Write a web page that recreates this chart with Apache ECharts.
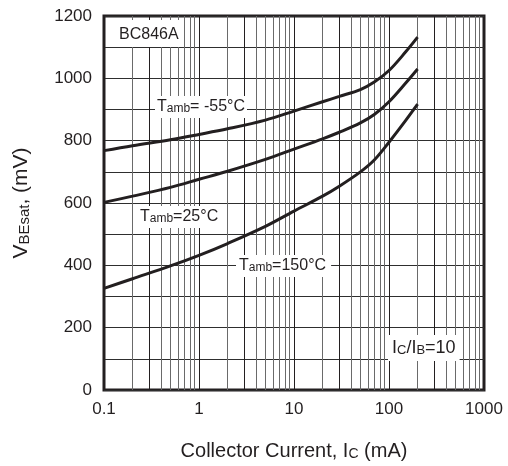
<!DOCTYPE html>
<html>
<head>
<meta charset="utf-8">
<script src="https://cdn.jsdelivr.net/npm/echarts@6/dist/echarts.min.js"></script>
<style>
  html, body { margin: 0; padding: 0; background: #fff; }
  #chart { width: 508px; height: 466px; }
</style>
</head>
<body>
<div id="chart"></div>
<script>
  // collector current (mA) and VBEsat (mV)
  const current = [0.1, 0.2, 0.5, 1, 2, 5, 10, 20, 30, 50, 70, 100, 150, 200];
  const vMinus55 = [768, 784, 803, 820, 838, 866, 895, 925, 942, 964, 988, 1025, 1085, 1132];
  const v25 = [602, 622, 650, 676, 702, 740, 773, 806, 827, 857, 884, 925, 985, 1030];
  const v150 = [326, 357, 398, 432, 470, 525, 574, 622, 654, 700, 738, 795, 865, 917];

  // minor log grid positions, the "3" lines are drawn darker like the original
  const minorGray = [0.2, 0.4, 0.5, 0.6, 0.7, 0.8, 0.9, 2, 4, 5, 6, 7, 8, 9, 20, 40, 50, 60, 70, 80, 90, 200, 400, 500, 600, 700, 800, 900];
  const minorDark = [0.3, 3, 30, 300];
  const xTicks = [0.1, 1, 10, 100, 1000];

  const ink = '#231f20';
  const pair = (ys) => current.map((x, i) => [x, ys[i]]);

  function curve(name, ys) {
    return {
      name, type: 'line', data: pair(ys), smooth: 0.35, symbol: 'none',
      lineStyle: { color: ink, width: 3 }, z: 5
    };
  }

  const sub = (size) => ({ font: size + 'px "Liberation Sans"', fill: ink, verticalAlign: 'bottom' });

  const chart = echarts.init(document.getElementById('chart'));
  chart.setOption({
    animation: false,
    grid: { left: 104, top: 16, right: 24, bottom: 72, show: true, borderColor: ink, borderWidth: 3, backgroundColor: '#fff' },
    xAxis: {
      type: 'log', logBase: 10, min: 0.1, max: 1000,
      name: 'Collector Current, I{s|C} (mA)', nameLocation: 'middle', nameGap: 51,
      nameTextStyle: { fontFamily: 'Liberation Sans', fontSize: 20, color: ink, rich: { s: { fontSize: 14, fontFamily: 'Liberation Sans', color: ink, verticalAlign: 'bottom' } } },
      axisLine: { show: false }, axisTick: { show: false },
      axisLabel: { fontFamily: 'Liberation Sans', fontSize: 17, color: ink, margin: 11,
        formatter: (v) => xTicks.find((t) => Math.abs(t - v) / t < 1e-6) !== undefined ? String(v) : '' },
      splitLine: { show: true, lineStyle: { color: ink, width: 1 } }
    },
    yAxis: {
      type: 'value', min: 0, max: 1200, interval: 200,
      name: '{v|V}{s|BEsat}{v|, (mV)}', nameLocation: 'middle', nameRotate: 90, nameGap: 72,
      nameTextStyle: { rich: {
        v: { fontFamily: 'Liberation Sans', fontSize: 21, color: ink, verticalAlign: 'bottom' },
        s: { fontFamily: 'Liberation Sans', fontSize: 15, color: ink, verticalAlign: 'bottom' }
      } },
      axisLine: { show: false }, axisTick: { show: false },
      axisLabel: { fontFamily: 'Liberation Sans', fontSize: 17, color: ink, margin: 12, formatter: (v) => String(v) },
      splitLine: { show: true, lineStyle: { color: '#2e2e2e', width: 1 } },
      minorTick: { show: false, splitNumber: 2 },
      minorSplitLine: { show: true, lineStyle: { color: '#2e2e2e', width: 1 } }
    },
    series: [
      {
        type: 'line', data: [], silent: true, z: 1,
        markLine: {
          silent: true, symbol: 'none', label: { show: false }, animation: false,
          data: minorGray.map((v) => ({ xAxis: v, lineStyle: { color: '#6a6a6a', width: 1, type: 'solid' } }))
            .concat(minorDark.map((v) => ({ xAxis: v, lineStyle: { color: ink, width: 1, type: 'solid' } })))
        }
      },
      curve('-55', vMinus55),
      curve('25', v25),
      curve('150', v150)
    ],
    graphic: [
      { type: 'rect', shape: { x: 106, y: 20, width: 76, height: 27 }, style: { fill: '#fff' }, z: 10 },
      { type: 'text', x: 119, y: 35, z: 11, style: { text: 'BC846A', font: '16px "Liberation Sans"', fill: ink, verticalAlign: 'middle' } },
      { type: 'text', x: 155, y: 107, z: 11, style: {
        text: '{t|T}{s|amb}{t|= -55°C}', verticalAlign: 'middle', backgroundColor: '#fff', padding: [3, 2, 3, 2],
        rich: { t: sub(16), s: sub(12) } } },
      { type: 'text', x: 136, y: 217, z: 11, style: {
        text: '{t|T}{s|amb}{t|=25°C}', verticalAlign: 'middle', backgroundColor: '#fff', padding: [3, 4, 3, 4],
        rich: { t: sub(16), s: sub(12) } } },
      { type: 'text', x: 236, y: 266, z: 11, style: {
        text: '{t|T}{s|amb}{t|=150°C}', verticalAlign: 'middle', backgroundColor: '#fff', padding: [3, 5, 3, 3],
        rich: { t: sub(16), s: sub(12) } } },
      { type: 'text', x: 388, y: 348, z: 11, style: {
        text: '{t|I}{s|C}{t|/I}{s|B}{t|=10}', verticalAlign: 'middle', backgroundColor: '#fff', padding: [4, 4, 4, 4],
        rich: { t: sub(18), s: sub(13) } } }
    ]
  });
</script>
</body>
</html>
